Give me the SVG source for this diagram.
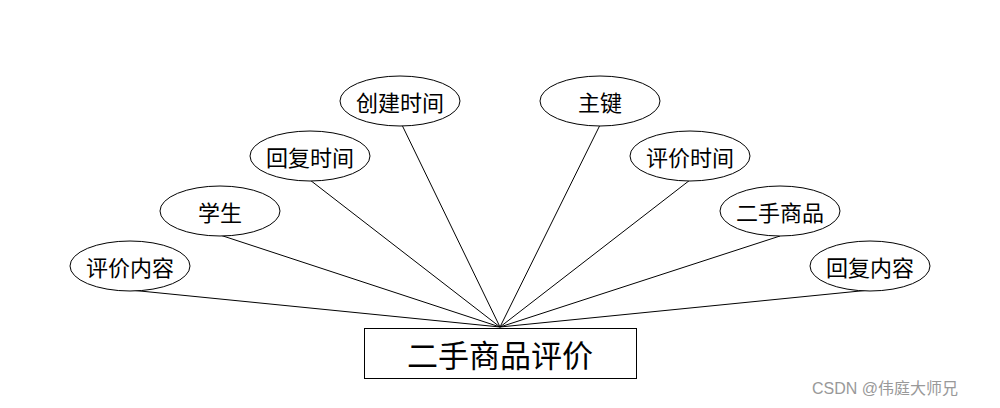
<svg xmlns="http://www.w3.org/2000/svg" width="1000" height="408" viewBox="0 0 1000 408">
<style>
.e{fill:#fff;stroke:#000;stroke-width:1}
.t{font-family:"Noto Sans CJK SC","Microsoft YaHei",sans-serif;font-size:22px;fill:#000;text-anchor:middle;dominant-baseline:central}
.c line{stroke:#000;stroke-width:1}
</style>
<rect width="1000" height="408" fill="#fff"/>
<g class="c" id="connectors">
<line x1="130" y1="290" x2="500" y2="327"/>
<line x1="220" y1="235" x2="500" y2="327"/>
<line x1="310" y1="180" x2="500" y2="327"/>
<line x1="402" y1="125" x2="500" y2="327"/>
<line x1="600" y1="125" x2="500" y2="327"/>
<line x1="690" y1="180" x2="500" y2="327"/>
<line x1="780" y1="236" x2="500" y2="327"/>
<line x1="870" y1="290" x2="500" y2="327"/>
</g>
<g id="main"><rect x="364.5" y="328.5" width="272" height="50" fill="#fff" stroke="#000"/><text class="t" x="500" y="353" style="font-size:31px">二手商品评价</text></g>
<g id="n1"><ellipse class="e" cx="130" cy="266" rx="60" ry="25"/><text class="t" x="130" y="266">评价内容</text></g>
<g id="n2"><ellipse class="e" cx="220" cy="211" rx="60" ry="25"/><text class="t" x="220" y="211">学生</text></g>
<g id="n3"><ellipse class="e" cx="310" cy="156" rx="60" ry="25"/><text class="t" x="310" y="156">回复时间</text></g>
<g id="n4"><ellipse class="e" cx="400" cy="101" rx="60" ry="25"/><text class="t" x="400" y="101">创建时间</text></g>
<g id="n5"><ellipse class="e" cx="600" cy="101" rx="60" ry="25"/><text class="t" x="600" y="101">主键</text></g>
<g id="n6"><ellipse class="e" cx="690" cy="156" rx="60" ry="25"/><text class="t" x="690" y="156">评价时间</text></g>
<g id="n7"><ellipse class="e" cx="780" cy="211" rx="60" ry="25"/><text class="t" x="780" y="211">二手商品</text></g>
<g id="n8"><ellipse class="e" cx="870" cy="266" rx="60" ry="25"/><text class="t" x="870" y="266">回复内容</text></g>
<text x="812" y="394" style="font-family:'Liberation Sans','Noto Sans CJK SC',sans-serif;font-size:16px;fill:#999">CSDN @伟庭大师兄</text>
</svg>
